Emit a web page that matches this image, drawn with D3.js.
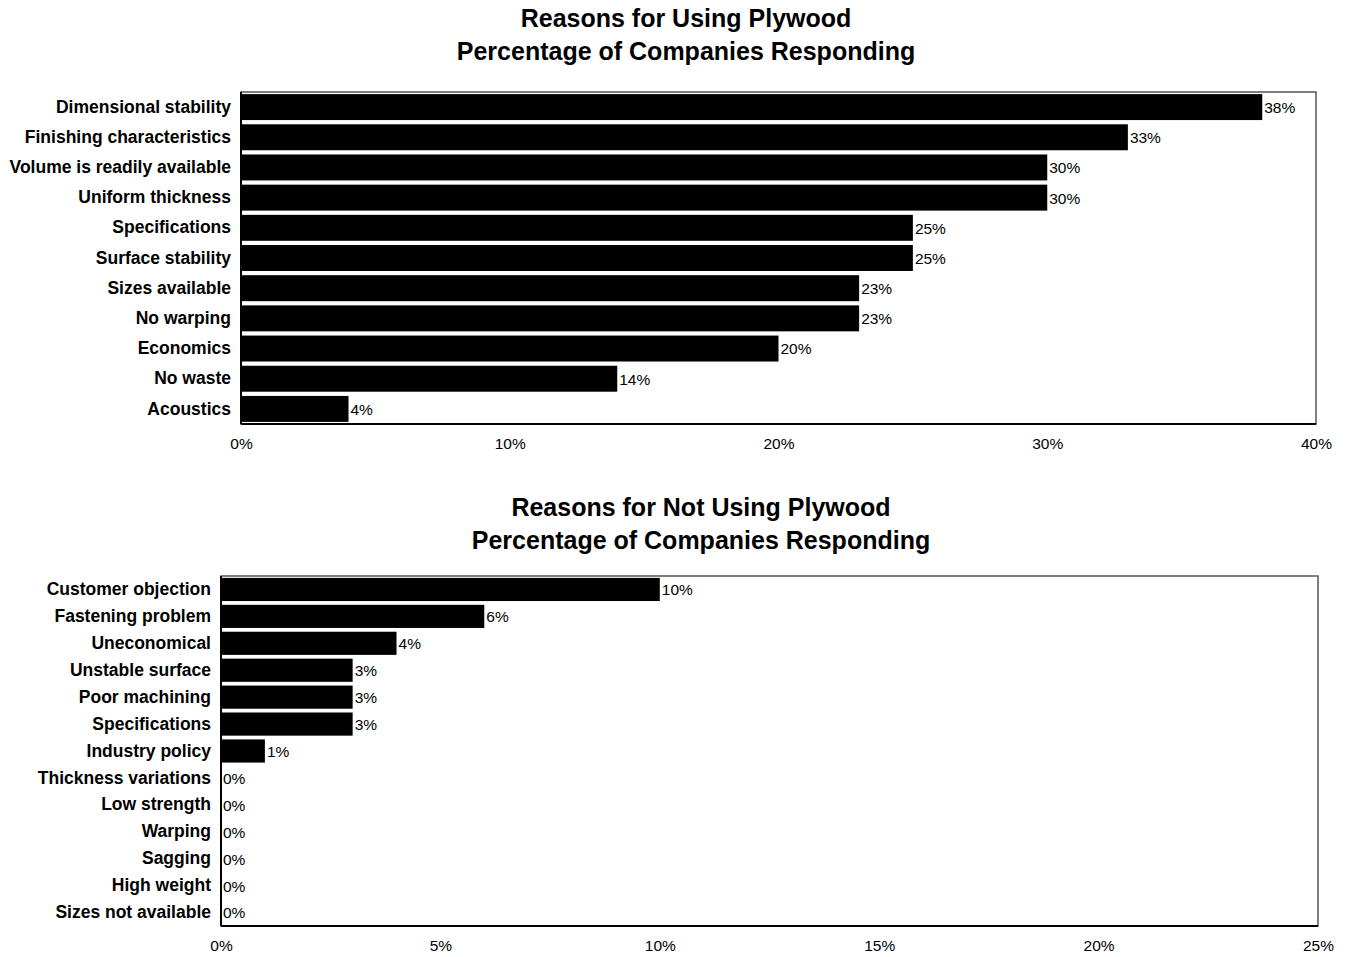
<!DOCTYPE html>
<html>
<head>
<meta charset="utf-8">
<script src="https://cdn.jsdelivr.net/npm/d3@7/dist/d3.min.js"></script>
<style>
  html, body { margin: 0; padding: 0; background: #fff; }
  svg { display: block; font-family: "Liberation Sans", Arial, sans-serif; }
</style>
</head>
<body>
<svg id="chart" width="1352" height="957"></svg>
<script>
// Reasons for using plywood (% of companies)
const useCategories = ["Dimensional stability", "Finishing characteristics", "Volume is readily available",
  "Uniform thickness", "Specifications", "Surface stability", "Sizes available", "No warping",
  "Economics", "No waste", "Acoustics"];
const useValues = [38, 33, 30, 30, 25, 25, 23, 23, 20, 14, 4];
const useTicks = [0, 10, 20, 30, 40];

// Reasons for not using plywood (% of companies)
const notUseCategories = ["Customer objection", "Fastening problem", "Uneconomical", "Unstable surface",
  "Poor machining", "Specifications", "Industry policy", "Thickness variations", "Low strength",
  "Warping", "Sagging", "High weight", "Sizes not available"];
const notUseValues = [10, 6, 4, 3, 3, 3, 1, 0, 0, 0, 0, 0, 0];
const notUseTicks = [0, 5, 10, 15, 20, 25];

const svg = d3.select("#chart");

function drawPanel(cfg) {
  const g = svg.append("g");
  const x = d3.scaleLinear().domain([0, cfg.max]).range([cfg.left, cfg.right]);
  const y = d3.scaleBand().domain(cfg.categories).range([cfg.top, cfg.bottom])
    .paddingInner(cfg.pad).paddingOuter(cfg.pad / 2);

  // titles
  cfg.title.forEach((t, i) => {
    g.append("text").attr("x", cfg.titleX).attr("y", cfg.titleY + i * 33)
      .attr("text-anchor", "middle").attr("font-size", 25).attr("font-weight", "bold")
      .attr("fill", "#000").text(t);
  });

  // plot frame
  g.append("rect").attr("x", cfg.left).attr("y", cfg.top)
    .attr("width", cfg.right - cfg.left).attr("height", cfg.bottom - cfg.top)
    .attr("fill", "none").attr("stroke", "#555").attr("stroke-width", 1.5);

  // bars
  const data = cfg.categories.map((c, i) => ({ c, v: cfg.values[i] }));
  g.selectAll("rect.bar").data(data).enter().append("rect").attr("class", "bar")
    .attr("x", x(0)).attr("y", d => y(d.c))
    .attr("width", d => x(d.v) - x(0)).attr("height", y.bandwidth())
    .attr("fill", "#000");

  // left/bottom axis edges
  g.append("line").attr("x1", cfg.left).attr("x2", cfg.left).attr("y1", cfg.top).attr("y2", cfg.bottom)
    .attr("stroke", "#000").attr("stroke-width", 2);
  g.append("line").attr("x1", cfg.left).attr("x2", cfg.right).attr("y1", cfg.bottom).attr("y2", cfg.bottom)
    .attr("stroke", "#000").attr("stroke-width", 2);

  // value labels
  g.selectAll("text.val").data(data).enter().append("text").attr("class", "val")
    .attr("x", d => x(d.v) + 2).attr("y", d => y(d.c) + y.bandwidth() / 2)
    .attr("dy", "0.38em").attr("font-size", 15.5).attr("fill", "#000")
    .text(d => d.v + "%");

  // category labels
  const yAxis = d3.axisLeft(y).tickSize(0).tickPadding(10);
  const ya = g.append("g").attr("transform", `translate(${cfg.left},0)`).call(yAxis);
  ya.select(".domain").remove();
  ya.selectAll("text").attr("font-size", 17.5).attr("font-weight", "bold")
    .attr("font-family", "Liberation Sans, Arial, sans-serif").attr("fill", "#000");

  // x tick labels
  const xAxis = d3.axisBottom(x).tickValues(cfg.ticks).tickSize(0).tickPadding(14)
    .tickFormat(d => d + "%");
  const xa = g.append("g").attr("transform", `translate(0,${cfg.bottom})`).call(xAxis);
  xa.select(".domain").remove();
  xa.selectAll("text").attr("font-size", 15.5)
    .attr("font-family", "Liberation Sans, Arial, sans-serif").attr("fill", "#000");
}

drawPanel({
  title: ["Reasons for Using Plywood", "Percentage of Companies Responding"],
  titleX: 686, titleY: 27,
  categories: useCategories, values: useValues, ticks: useTicks, max: 40,
  left: 241, right: 1316, top: 92, bottom: 424, pad: 0.14
});

drawPanel({
  title: ["Reasons for Not Using Plywood", "Percentage of Companies Responding"],
  titleX: 701, titleY: 516,
  categories: notUseCategories, values: notUseValues, ticks: notUseTicks, max: 25,
  left: 221, right: 1318, top: 576, bottom: 926, pad: 0.14
});
</script>
</body>
</html>
